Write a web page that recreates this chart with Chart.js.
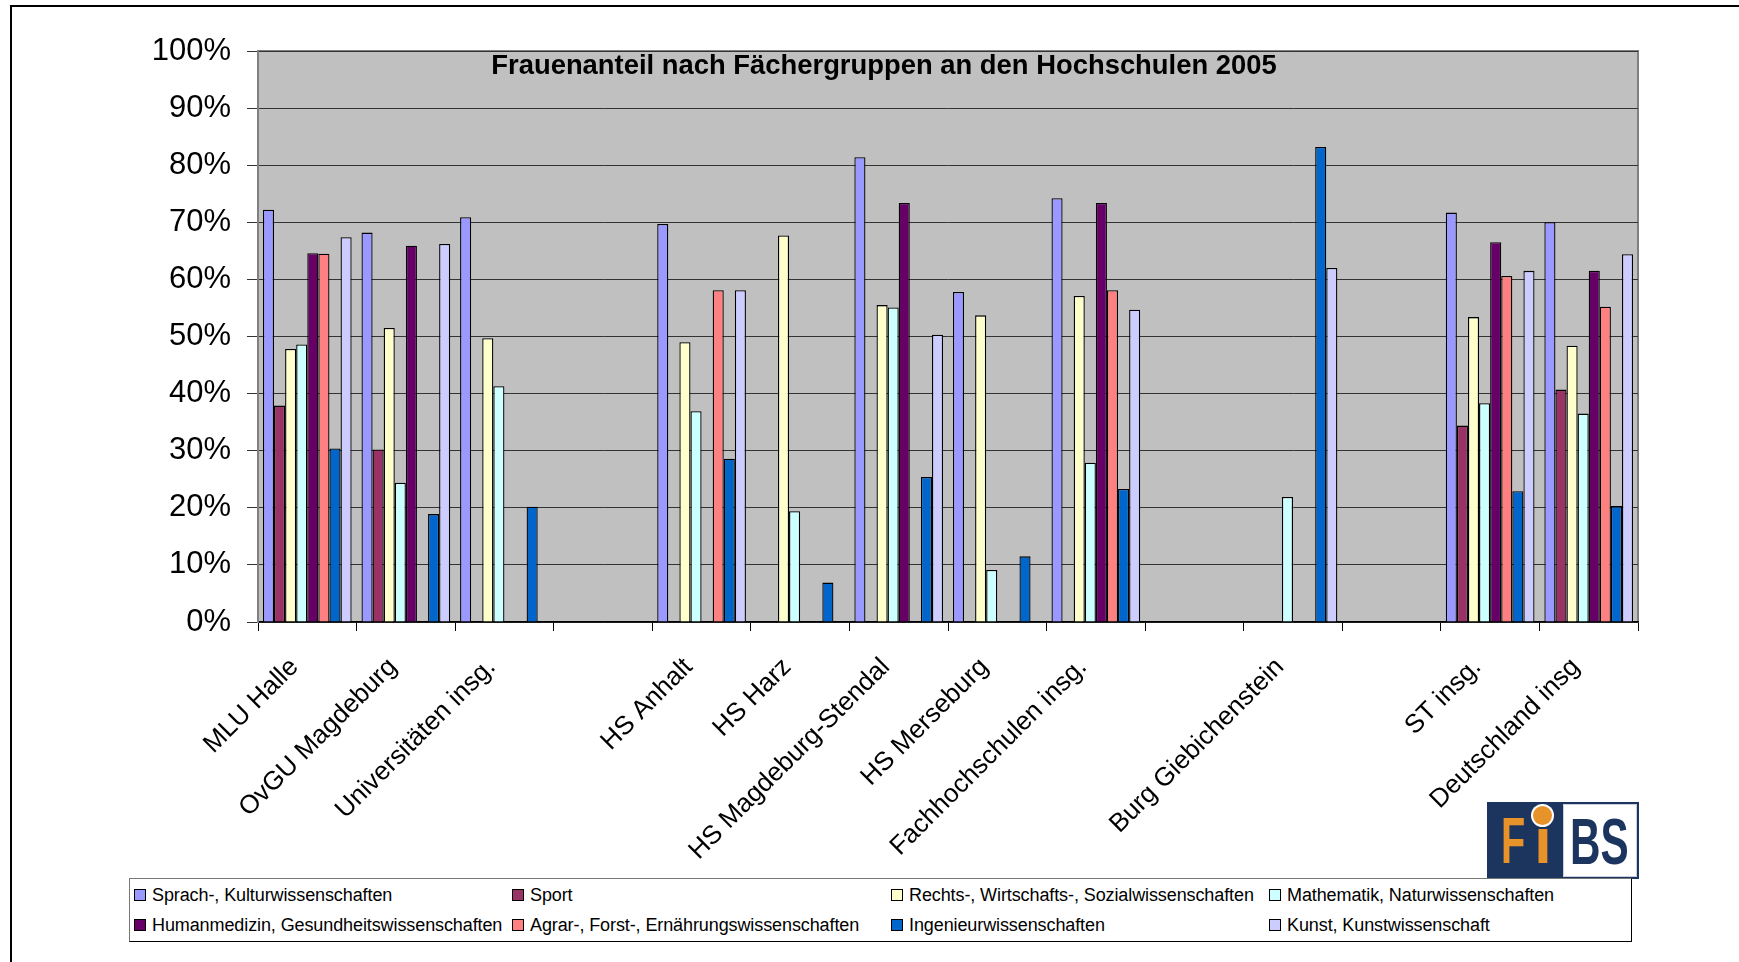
<!DOCTYPE html>
<html lang="de">
<head>
<meta charset="utf-8">
<title>Frauenanteil nach Fächergruppen an den Hochschulen 2005</title>
<script src="https://cdn.jsdelivr.net/npm/chart.js@4.4.1/dist/chart.umd.min.js"></script>
<style>
    html, body { margin: 0; padding: 0; background: #fff; overflow: hidden; }
    #wrap { position: relative; width: 1739px; height: 962px; font-family: 'Liberation Sans', Arial, sans-serif; }
    #frame { position: absolute; left: 10px; top: 5px; width: 1800px; height: 1000px; border-top: 2px solid #000; border-left: 2px solid #000; }
    #chart { position: absolute; left: 0; top: 0; }
    #legend {
        position: absolute; left: 129px; top: 878px; width: 1503px; height: 64px;
        border: 1px solid #000; border-top-color: #777; border-left-color: #777;
        background: #fff; display: grid; grid-template-columns: 378px 379px 378px 1fr;
        grid-template-rows: 30px 30px; padding-top: 1px; box-sizing: border-box;
    }
    .legend-item { display: flex; align-items: center; padding-left: 4px; font-size: 18px; color: #000; white-space: nowrap; letter-spacing: -0.1px; }
    .legend-box { width: 10px; height: 10px; border: 1px solid #000; margin-right: 6px; flex: none; }
    #logo { position: absolute; left: 1487px; top: 802px; width: 152px; height: 77px; background: #1c355e; overflow: hidden; }
    #logo span { position: absolute; font: bold 64px/1 'Liberation Sans', Arial, sans-serif; }
    #logo .f { left: 14px; top: 7px; color: #e8922a; transform: scaleX(0.62); transform-origin: left top; }
    #logo .i { left: 47px; top: 7px; color: #e8922a; }
    #logo .dot { position: absolute; left: 46px; top: 4px; width: 19px; height: 19px; border-radius: 50%; background: #e8922a; box-shadow: 0 0 0 2px #fff; }
    #logo .bs-box { position: absolute; left: 76px; top: 2px; width: 74px; height: 73px; background: #fff; box-sizing: border-box; border: 1px solid #c9d0dc; }
    #logo .bs { left: 6px; top: 5px; color: #1c355e; transform: scaleX(0.66); transform-origin: left top; }
</style>
</head>
<body>
<div id="wrap">
    <div id="frame"></div>
    <canvas id="chart" width="1739" height="962"></canvas>
    <div id="logo">
        <span class="f">F</span>
        <span class="i">ı</span>
        <div class="dot"></div>
        <div class="bs-box"><span class="bs">BS</span></div>
    </div>
    <div id="legend"></div>
</div>
<script>
const chartTitle = 'Frauenanteil nach Fächergruppen an den Hochschulen 2005';

const categories = ['MLU Halle', 'OvGU Magdeburg', 'Universitäten insg.', '', 'HS Anhalt', 'HS Harz',
    'HS Magdeburg-Stendal', 'HS Merseburg', 'Fachhochschulen insg.', '', 'Burg Giebichenstein', '',
    'ST insg.', 'Deutschland insg'];

const seriesNames = ['Sprach-, Kulturwissenschaften', 'Sport', 'Rechts-, Wirtschafts-, Sozialwissenschaften',
    'Mathematik, Naturwissenschaften', 'Humanmedizin, Gesundheitswissenschaften',
    'Agrar-, Forst-, Ernährungswissenschaften', 'Ingenieurwissenschaften', 'Kunst, Kunstwissenschaft'];

const sprach = [72.2, 68.2, 70.9, null, 69.7, null, 81.4, 57.8, 74.2, null, null, null, 71.7, 70.0];
const sport  = [37.9, 30.2, null, null, null, null, null, null, null, null, null, null, 34.4, 40.7];
const rechts = [47.8, 51.5, 49.7, null, 49.0, 67.7, 55.5, 53.7, 57.1, null, null, null, 53.4, 48.4];
const mathe  = [48.6, 24.4, 41.3, null, 36.9, 19.4, 55.1, 9.1, 27.9, null, 21.9, null, 38.3, 36.5];
const human  = [64.6, 65.9, null, null, null, null, 73.4, null, 73.4, null, null, null, 66.5, 61.5];
const agrar  = [64.5, null, null, null, 58.1, null, null, null, 58.1, null, null, null, 60.6, 55.2];
const ingen  = [30.4, 18.9, 20.2, null, 28.6, 6.9, 25.4, 11.5, 23.3, null, 83.2, null, 22.9, 20.3];
const kunst  = [67.4, 66.2, null, null, 58.1, null, 50.3, null, 54.7, null, 62.0, null, 61.5, 64.4];

const seriesValues = [sprach, sport, rechts, mathe, human, agrar, ingen, kunst];
const seriesColors = ['#9999ff', '#993366', '#ffffcc', '#ccffff', '#660066', '#ff8080', '#0066cc', '#ccccff'];

const yTicks = [0, 10, 20, 30, 40, 50, 60, 70, 80, 90, 100];

Chart.defaults.color = '#000';
Chart.defaults.font.family = "'Liberation Sans', Arial, sans-serif";

// grey plot background + frame, like the Excel plot area
const plotAreaPlugin = {
    id: 'plotArea',
    beforeDraw(chart) {
        const { ctx, chartArea: a } = chart;
        ctx.save();
        ctx.fillStyle = '#c0c0c0';
        ctx.fillRect(a.left, a.top, a.right - a.left, a.bottom - a.top);
        ctx.strokeStyle = '#808080';
        ctx.lineWidth = 2;
        ctx.beginPath();
        ctx.moveTo(a.left, a.top);
        ctx.lineTo(a.right, a.top);
        ctx.lineTo(a.right, a.bottom);
        ctx.stroke();
        ctx.restore();
    }
};

// title sits inside the plot area
const innerTitlePlugin = {
    id: 'innerTitle',
    afterDraw(chart) {
        const { ctx } = chart;
        ctx.save();
        ctx.font = "bold 27.4px 'Liberation Sans', Arial, sans-serif";
        ctx.fillStyle = '#000';
        ctx.textAlign = 'center';
        ctx.textBaseline = 'alphabetic';
        ctx.fillText(chartTitle, 884, 74);
        ctx.restore();
    }
};

const datasets = seriesNames.map((name, i) => ({
    label: name,
    data: seriesValues[i],
    backgroundColor: seriesColors[i],
    borderColor: '#000',
    borderWidth: 1.3,
    borderSkipped: 'bottom',
    categoryPercentage: 0.9,
    barPercentage: 1.0
}));

const chart = new Chart(document.getElementById('chart'), {
    type: 'bar',
    data: { labels: categories, datasets },
    plugins: [plotAreaPlugin, innerTitlePlugin],
    options: {
        responsive: false,
        animation: false,
        devicePixelRatio: 1,
        layout: { padding: { top: 51, left: 0, right: 101, bottom: 0 } },
        plugins: {
            legend: { display: false },
            title: { display: false },
            tooltip: { enabled: false }
        },
        scales: {
            x: {
                afterFit: (scale) => { scale.height = 340; },
                grid: { display: true, drawOnChartArea: false, offset: true, color: '#000', tickLength: 9 },
                border: { color: '#000', width: 1.5 },
                ticks: {
                    autoSkip: false,
                    minRotation: 45,
                    maxRotation: 45,
                    padding: 21,
                    labelOffset: -13,
                    font: { size: 26 }
                }
            },
            y: {
                min: 0,
                max: 100,
                afterFit: (scale) => { scale.width = 258; },
                afterBuildTicks: (scale) => { scale.ticks = yTicks.map(v => ({ value: v })); },
                grid: { color: '#333', tickLength: 11 },
                border: { color: '#808080', width: 2 },
                ticks: {
                    padding: 16,
                    font: { size: 31 },
                    callback: (val) => val + '%'
                }
            }
        }
    }
});

let legendHtml = '';
chart.data.datasets.forEach(ds => {
    legendHtml += `<div class="legend-item"><span class="legend-box" style="background: ${ds.backgroundColor};"></span>${ds.label}</div>`;
});
document.getElementById('legend').innerHTML = legendHtml;
</script>
</body>
</html>
